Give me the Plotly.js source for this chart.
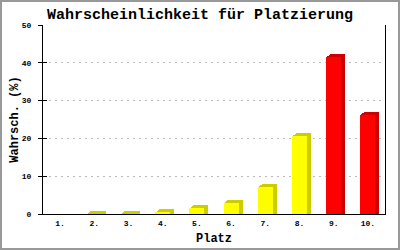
<!DOCTYPE html>
<html>
<head>
<meta charset="utf-8">
<script src="https://cdn.plot.ly/plotly-3.0.1.min.js"></script>
<style>
  html, body { margin: 0; padding: 0; background: #fff; }
  #wrap { position: relative; width: 400px; height: 250px; }
  #chart { width: 400px; height: 250px; }
  #frame { position: absolute; left: 0; top: 0; width: 400px; height: 250px; box-sizing: border-box; border: 2px solid #999; pointer-events: none; }
</style>
</head>
<body>
<div id="wrap"><div id="chart"></div><div id="frame"></div></div>
<script>
// ---- data ----
const places = ['1.', '2.', '3.', '4.', '5.', '6.', '7.', '8.', '9.', '10.'];
const probability = [0, 0.1, 0.1, 0.45, 1.5, 3.0, 7.2, 20.6, 41.5, 26.2];
const highlighted = [false, false, false, false, false, false, false, false, true, true];
const yTicks = [0, 10, 20, 30, 40, 50];

// ---- style ----
const FONT = 'Liberation Mono, Courier New, monospace';
const frontCol = highlighted.map(h => h ? '#FF0000' : '#FFFF00');
const sideCol = highlighted.map(h => h ? '#CC0000' : '#CCCC00');
const BAR_W = 0.44;
const STEPS = 4;
const DX = 1 / 34.2;      // 1px in category units
const DY = 0.2;           // ~0.75px in value units

const traces = [];
for (let k = STEPS; k >= 1; k--) {
  traces.push({
    type: 'bar', x: places,
    y: probability.map(v => v > 0 ? v + k * DY : 0),
    width: BAR_W, offset: -BAR_W / 2 + k * DX,
    marker: { color: sideCol, line: { width: 0 } },
    hoverinfo: 'skip', showlegend: false
  });
}
traces.push({
  type: 'bar', x: places, y: probability,
  width: BAR_W, offset: -BAR_W / 2,
  marker: { color: frontCol, line: { width: 0 } },
  showlegend: false
});
traces.push({ type: 'scatter', x: [], y: [], yaxis: 'y2', showlegend: false });
traces.push({ type: 'scatter', x: [], y: [], yaxis: 'y3', showlegend: false });

const tickFont = { family: FONT, size: 8, color: '#000', weight: 'bold' };

const layout = {
  width: 400, height: 250,
  margin: { l: 43, r: 15, t: 25, b: 36 },
  paper_bgcolor: '#fff', plot_bgcolor: '#fff',
  barmode: 'overlay', bargap: 0,
  font: { family: FONT, color: '#000' },
  title: {
    text: '<b>Wahrscheinlichkeit für Platzierung</b>',
    font: { family: FONT, size: 15, color: '#000' },
    x: 0.5, xref: 'container', xanchor: 'center',
    y: 1 - 14 / 250, yref: 'container', yanchor: 'middle'
  },
  xaxis: {
    type: 'category', range: [-0.5, places.length - 0.5],
    showline: true, linecolor: '#000', linewidth: 1,
    ticks: '', showgrid: false, zeroline: false,
    tickfont: tickFont,
    ticklabelstandoff: 1,
    title: { text: '<b>Platz</b>', font: { family: FONT, size: 12, color: '#000' }, standoff: 7 },
    automargin: false
  },
  yaxis: {
    range: [0, 50], tickvals: yTicks, ticktext: yTicks.map(String),
    showline: true, linecolor: '#000', linewidth: 1,
    ticks: 'outside', ticklen: 4, tickcolor: '#000', tickwidth: 1,
    showgrid: true, gridcolor: '#BBBBBB', griddash: '2px,4px', gridwidth: 1,
    zeroline: false,
    tickfont: tickFont,
    ticklabelstandoff: 5,
    title: { text: '<b>Wahrsch. (%)</b>', font: { family: FONT, size: 12, color: '#000' }, standoff: 0 },
    automargin: false
  },
  yaxis2: {
    overlaying: 'y', side: 'right', range: [0, 50],
    showline: true, linecolor: '#000', linewidth: 1,
    ticks: '', showticklabels: false, showgrid: false, zeroline: false
  },
  yaxis3: {
    overlaying: 'y', side: 'left', range: [0, 50], tickvals: yTicks,
    showline: false, ticks: 'inside', ticklen: 4, tickcolor: '#000', tickwidth: 1,
    showticklabels: false, showgrid: false, zeroline: false
  }
};

Plotly.newPlot('chart', traces, layout, { staticPlot: true, displayModeBar: false });
</script>
</body>
</html>
